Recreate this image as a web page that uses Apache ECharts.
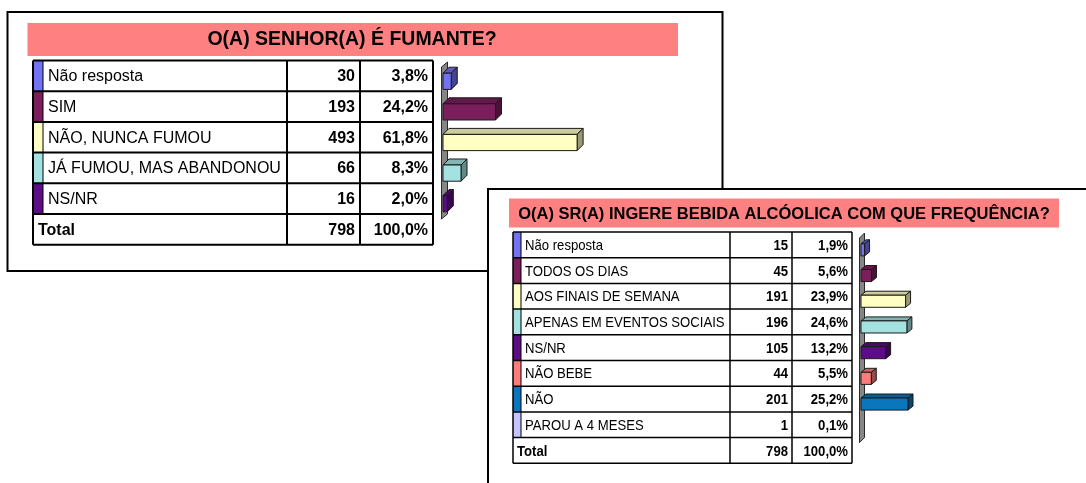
<!DOCTYPE html>
<html><head><meta charset="utf-8">
<script src="https://cdn.jsdelivr.net/npm/echarts@6/dist/echarts.min.js"></script>
<style>html,body{margin:0;padding:0;background:#fff}#c{width:1086px;height:483px}</style>
</head><body><div id="c"></div>
<script>
// ---- data ----
const title1 = 'O(A) SENHOR(A) É FUMANTE?';
const cats1 = ['Não resposta', 'SIM', 'NÃO, NUNCA FUMOU', 'JÁ FUMOU, MAS ABANDONOU', 'NS/NR'];
const counts1 = [30, 193, 493, 66, 16];
const pcts1 = [3.8, 24.2, 61.8, 8.3, 2.0];
const totalCount1 = 798;
const totalPct1 = 100.0;

const title2 = 'O(A) SR(A) INGERE BEBIDA ALCÓOLICA COM QUE FREQUÊNCIA?';
const cats2 = ['Não resposta', 'TODOS OS DIAS', 'AOS FINAIS DE SEMANA', 'APENAS EM EVENTOS SOCIAIS', 'NS/NR', 'NÃO BEBE', 'NÃO', 'PAROU A 4 MESES'];
const counts2 = [15, 45, 191, 196, 105, 44, 201, 1];
const pcts2 = [1.9, 5.6, 23.9, 24.6, 13.2, 5.5, 25.2, 0.1];
const totalCount2 = 798;
const totalPct2 = 100.0;

const colors1 = ['#7272F2', '#7A1E5C', '#FFFFC4', '#A4E2E2', '#5C0C84'];
const colors2 = ['#7272F2', '#7A1E5C', '#FFFFC4', '#A4E2E2', '#5C0C84', '#FF7C7C', '#0A76BE', '#C4C4FF'];

// ---- helpers ----
function shade(hex, f) {
  const n = parseInt(hex.slice(1), 16);
  const r = Math.round(((n >> 16) & 255) * f), g = Math.round(((n >> 8) & 255) * f), b = Math.round((n & 255) * f);
  return 'rgb(' + r + ',' + g + ',' + b + ')';
}
function fmtPct(p) { return p.toFixed(1).replace('.', ',') + '%'; }
const FONT = '"Liberation Sans", Arial, sans-serif';

function txt(x, y, s, size, bold, align, sx) {
  return {
    type: 'text', x: x, y: y, scaleX: sx || 1, silent: true, z: 10,
    style: {
      text: s, x: 0, y: 0, fill: '#000',
      font: (bold ? 'bold ' : '') + size + 'px ' + FONT,
      align: align, verticalAlign: 'middle', textAlign: align, textVerticalAlign: 'middle'
    }
  };
}
function line(x1, y1, x2, y2, w) {
  return { type: 'line', silent: true, z: 9, shape: { x1: x1, y1: y1, x2: x2, y2: y2 }, style: { stroke: '#000', lineWidth: w } };
}

function makeTable(c) {
  const els = [];
  const n = c.cats.length;
  const bottom = c.top + (n + 1) * c.rowH;
  els.push({ type: 'rect', silent: true, z: 5, shape: { x: c.x0, y: c.top, width: c.x1 - c.x0, height: bottom - c.top }, style: { fill: '#fff' } });
  for (let i = 0; i < n; i++) {
    const y = c.top + i * c.rowH;
    els.push({ type: 'rect', silent: true, z: 6, shape: { x: c.x0, y: y, width: c.strip - c.x0, height: c.rowH }, style: { fill: c.colors[i] } });
    const cy = y + c.rowH / 2 + 1;
    els.push(txt(c.strip + c.pad, cy, c.cats[i], c.size, false, 'left', c.sx));
    els.push(txt(c.c2 - c.pad, cy, String(c.counts[i]), c.size, true, 'right', c.sx));
    els.push(txt(c.x1 - c.pad, cy, fmtPct(c.pcts[i]), c.size, true, 'right', c.sx));
  }
  const ty = c.top + n * c.rowH + c.rowH / 2 + 1;
  els.push(txt(c.x0 + c.pad, ty, 'Total', c.size, true, 'left', c.sx));
  els.push(txt(c.c2 - c.pad, ty, String(c.total[0]), c.size, true, 'right', c.sx));
  els.push(txt(c.x1 - c.pad, ty, fmtPct(c.total[1]), c.size, true, 'right', c.sx));
  for (let i = 0; i <= n + 1; i++) {
    const y = c.top + i * c.rowH;
    els.push(line(c.x0, y, c.x1, y, c.lw));
  }
  [c.x0, c.c1, c.c2, c.x1].forEach(function (x) { els.push(line(x, c.top, x, bottom, c.lw)); });
  els.push(line(c.strip, c.top, c.strip, c.top + n * c.rowH, 1));
  return els;
}

function bar3d(colors, ratio, dx, dy) {
  return function (params, api) {
    const v = api.value(0), ci = api.value(1);
    const p0 = api.coord([0, ci]), p1 = api.coord([v, ci]);
    const h = api.size([0, 1])[1] * ratio;
    const x0 = p0[0], x1 = p1[0], y0 = p0[1] - h / 2, y1 = p0[1] + h / 2;
    const col = colors[params.dataIndex];
    const st = { stroke: '#1a1a1a', lineWidth: 1 };
    if (x1 - x0 < 1) { return { type: 'group', children: [] }; }
    return {
      type: 'group', children: [
        { type: 'polygon', shape: { points: [[x0, y0], [x0 + dx, y0 - dy], [x1 + dx, y0 - dy], [x1, y0]] }, style: Object.assign({ fill: shade(col, 0.8) }, st) },
        { type: 'polygon', shape: { points: [[x1, y0], [x1 + dx, y0 - dy], [x1 + dx, y1 - dy], [x1, y1]] }, style: Object.assign({ fill: shade(col, 0.6) }, st) },
        { type: 'rect', shape: { x: x0, y: y0, width: x1 - x0, height: y1 - y0 }, style: Object.assign({ fill: col }, st) }
      ]
    };
  };
}
function wall(dx, dy) {
  return function (params, api) {
    const cs = params.coordSys;
    const x = cs.x, t = cs.y, b = cs.y + cs.height;
    return {
      type: 'polygon',
      shape: { points: [[x - 1.5, t + dy - 4], [x - 1.5 + dx, t - 4], [x - 1.5 + dx, b - dy], [x - 1.5, b]] },
      style: { fill: '#868686', stroke: '#2a2a2a', lineWidth: 1 }
    };
  };
}

// ---- layout ----
const G1 = { left: 443, top: 66, width: 217, height: 153 };
const G2 = { left: 861, top: 237, width: 186.5, height: 205.6 };

const graphics = [];
// panel 1
graphics.push({ type: 'rect', silent: true, z: 1, shape: { x: 7.5, y: 12, width: 715, height: 259 }, style: { fill: '#fff', stroke: '#000', lineWidth: 2 } });
graphics.push({ type: 'rect', silent: true, z: 2, shape: { x: 27.5, y: 23, width: 650.5, height: 33 }, style: { fill: '#FF8080' } });
graphics.push(txt(352, 40, title1, 19.5, true, 'center', 1));
makeTable({ x0: 33, strip: 43, c1: 287, c2: 360, x1: 433, top: 60.5, rowH: 30.7, size: 16, sx: 1, pad: 5, lw: 2,
  cats: cats1, counts: counts1, pcts: pcts1, total: [totalCount1, totalPct1], colors: colors1 }).forEach(function (e) { graphics.push(e); });

const chart = echarts.init(document.getElementById('c'), null, { renderer: 'canvas' });
const g2els = [];
g2els.push({ type: 'rect', silent: true, z: 1, shape: { x: 488, y: 189, width: 620, height: 320 }, style: { fill: '#fff', stroke: '#000', lineWidth: 2 } });
g2els.push({ type: 'rect', silent: true, z: 2, shape: { x: 509, y: 198.5, width: 550, height: 29 }, style: { fill: '#FF8080' } });
g2els.push(txt(784, 214, title2, 16.5, true, 'center', 1));
makeTable({ x0: 513, strip: 521, c1: 730, c2: 792, x1: 852, top: 232, rowH: 25.7, size: 15, sx: 0.875, pad: 4, lw: 1.5,
  cats: cats2, counts: counts2, pcts: pcts2, total: [totalCount2, totalPct2], colors: colors2 }).forEach(function (e) { g2els.push(e); });

chart.setOption({
  animation: false,
  backgroundColor: '#fff',
  grid: [
    Object.assign({ containLabel: false }, G1),
    Object.assign({ containLabel: false }, G2)
  ],
  xAxis: [
    { gridIndex: 0, type: 'value', min: 0, max: 100, show: false },
    { gridIndex: 1, type: 'value', min: 0, max: 100, show: false }
  ],
  yAxis: [
    { gridIndex: 0, type: 'category', data: cats1, inverse: true, show: false },
    { gridIndex: 1, type: 'category', data: cats2, inverse: true, show: false }
  ],
  graphic: [
    { type: 'group', z: 0, children: graphics },
    { type: 'group', z: 100, children: g2els }
  ],
  series: [
    { type: 'custom', xAxisIndex: 0, yAxisIndex: 0, z: 3, renderItem: wall(6, 5), data: [[0, 0]], silent: true },
    { type: 'custom', xAxisIndex: 0, yAxisIndex: 0, z: 4, renderItem: bar3d(colors1, 0.53, 6, 6), encode: { x: 0, y: 1 },
      data: pcts1.map(function (p, i) { return [p, i]; }), silent: true },
    { type: 'custom', xAxisIndex: 1, yAxisIndex: 1, z: 103, renderItem: wall(5, 5), data: [[0, 0]], silent: true },
    { type: 'custom', xAxisIndex: 1, yAxisIndex: 1, z: 104, renderItem: bar3d(colors2, 0.47, 5, 4), encode: { x: 0, y: 1 },
      data: pcts2.map(function (p, i) { return [p, i]; }), silent: true }
  ]
});
</script></body></html>
